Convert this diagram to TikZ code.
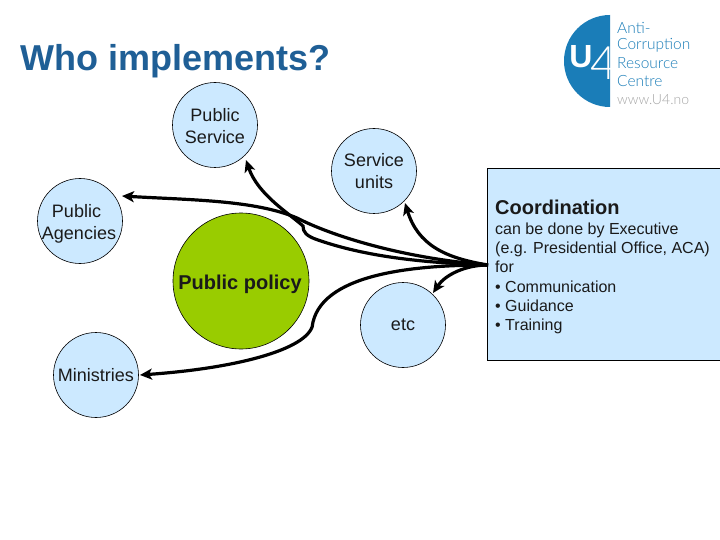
\documentclass[tikz,border=0pt]{standalone}
\usepackage{fontspec}
\setmainfont{Liberation Sans}
\newfontfamily\logofont{Lato Light}
\usetikzlibrary{arrows.meta}
\definecolor{circblue}{HTML}{CCE9FF}
\definecolor{polgreen}{HTML}{99CC00}
\definecolor{titleblue}{HTML}{1F5F96}
\definecolor{logoblue}{HTML}{1A7DB8}
\definecolor{txtk}{HTML}{1A1A1A}
\tikzset{
  unitc/.style={circle,draw=black,line width=0.6pt,fill=circblue,minimum size=85pt,inner sep=0pt,align=center,font=\fontsize{18}{21.8}\selectfont,text=txtk},
  unitt/.style={inner sep=0pt,align=center,font=\fontsize{18}{21.8}\selectfont,text=txtk},
  conn/.style={line width=3.2pt,black,-{Stealth[length=12pt,width=11pt,inset=3pt]}},
  logotxt/.style={anchor=west,inner sep=0pt,text=logoblue,font=\logofont\fontsize{15.5}{15.5}\selectfont}
}
\begin{document}
\begin{tikzpicture}[x=1pt,y=-1pt]
\useasboundingbox (0,0) rectangle (720,540);
\fill[white] (0,0) rectangle (720,540);
\node[anchor=west,inner sep=0pt,text=titleblue,font=\bfseries\fontsize{36}{40}\selectfont] (title) at (20,61) {Who implements?};
% logo
\fill[logoblue] (610,15) arc[start angle=-90,end angle=-270,radius=46] -- cycle;
\node[inner sep=0pt,text=white,font=\bfseries\fontsize{32}{32}\selectfont] (logoU) at (581,57) {U};
\node[inner sep=0pt,text=white,font=\logofont\fontsize{46}{46}\selectfont] (logo4) at (604,63) {4};
\node[logotxt] (l1) at (617,28) {Anti-};
\node[logotxt] (l2) at (617,45.5) {Corruption};
\node[logotxt] (l3) at (617,63) {Resource};
\node[logotxt] (l4) at (617,81) {Centre};
\node[logotxt,text=gray!70,font=\logofont\fontsize{14}{14}\selectfont] (l5) at (617,100) {www.U4.no};
% box
\node[draw=black,line width=0.6pt,fill=circblue,minimum width=233pt,minimum height=192pt,inner sep=0pt,anchor=north west] (box) at (487,168) {};
\node[anchor=west,inner sep=0pt,font=\bfseries\fontsize{20}{22}\selectfont,text=txtk] (coord) at (495,207) {Coordination};
\node[anchor=north west,inner sep=0pt,align=left,font=\fontsize{16}{19.3}\selectfont,text=txtk] (boxtxt) at (495,222.5) {can be done by Executive\\(e.g. Presidential Office, ACA)\\for\\• Communication\\• Guidance\\• Training};
% circles
\node[unitc] (ps) at (215,125) {};
\node[unitt] (pst) at (215,126) {Public\\Service};
\node[unitc] (su) at (374,171) {Service\\units};
\node[unitc] (pa) at (80,221) {};
\node[unitt] (pat) at (79,224) {Public\hspace*{5pt}\\Agencies};
\node[unitc] (et) at (403,325) {etc};
\node[unitc] (mi) at (96,375) {Ministries};
\node[circle,draw=black,line width=0.6pt,fill=polgreen,minimum size=136pt,inner sep=0pt] (pp) at (241,281) {};
\node[inner sep=0pt,font=\bfseries\fontsize{20}{22}\selectfont,text=txtk] (ppt) at (240,284) {Public policy};
\coordinate (hub) at (488,265);
% connectors
\draw[conn] (hub) .. controls (430,263) and (370,258) .. (318,240) .. controls (306,236) and (303,232) .. (303,226) .. controls (290,214) and (258,195) .. (246,160);
\draw[conn] (hub) .. controls (400,258) and (330,235) .. (297,218) .. controls (255,200) and (190,200) .. (122,196);
\draw[conn] (hub) .. controls (445,258) and (418,245) .. (405,203);
\draw[conn] (hub) .. controls (465,265) and (445,275) .. (433,293);
\draw[conn] (hub) .. controls (420,265) and (325,272) .. (313,322) .. controls (313,348) and (240,368) .. (140,375);
\end{tikzpicture}
\end{document}
